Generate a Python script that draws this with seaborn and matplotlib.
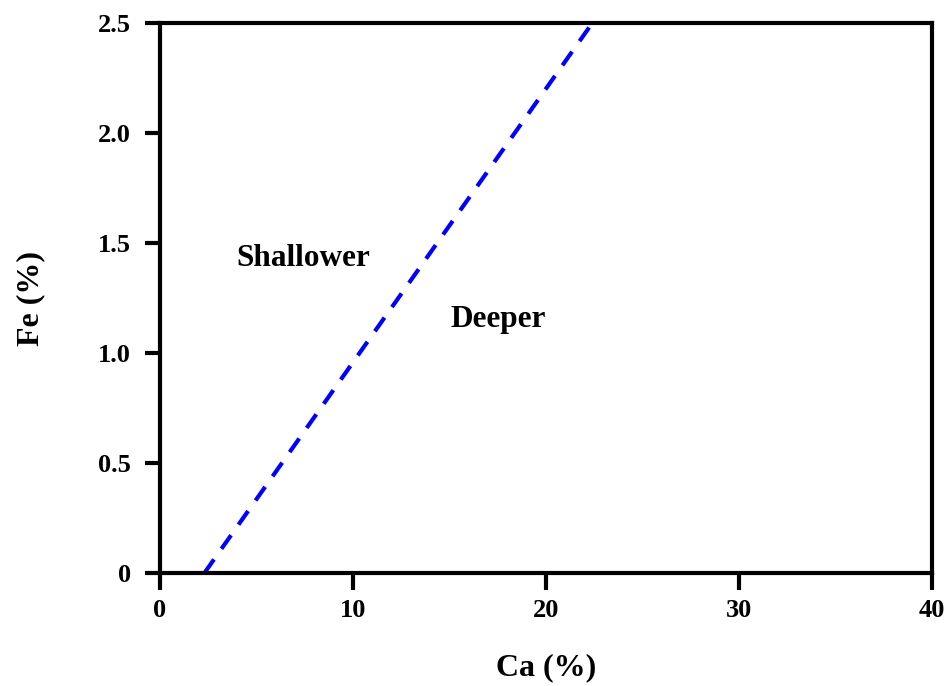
import matplotlib
matplotlib.use("Agg")
import matplotlib.pyplot as plt
import seaborn as sns
import pandas as pd

sns.set_theme(style="white")
plt.rcParams['font.family'] = ['Liberation Serif', 'DejaVu Serif']
plt.rcParams['font.weight'] = 'bold'
plt.rcParams['text.color'] = 'black'
plt.rcParams['axes.labelcolor'] = 'black'
plt.rcParams['xtick.color'] = 'black'
plt.rcParams['ytick.color'] = 'black'

# Boundary line data
ca_line = [2.3, 22.4]
fe_line = [0.0, 2.5]
x_ticks = [0, 10, 20, 30, 40]
y_ticks = [0, 0.5, 1.0, 1.5, 2.0, 2.5]
y_tick_labels = ["0", "0.5", "1.0", "1.5", "2.0", "2.5"]
region_labels = ["Shallower", "Deeper"]
region_x = [7.4, 17.5]
region_y = [1.43, 1.15]

df = pd.DataFrame({"Ca": ca_line, "Fe": fe_line})

fig = plt.figure(figsize=(9.47, 6.86), dpi=100)
ax = fig.add_axes([160/947, 1 - 573/686, (932-160)/947, (573-23)/686])
sns.lineplot(data=df, x="Ca", y="Fe", ax=ax, color="#0000ff", linestyle=(0, (4.0, 3.1)), linewidth=3)

ax.set_xlim(0, 40)
ax.set_ylim(0, 2.5)
ax.set_xticks(x_ticks)
ax.set_xticklabels([str(t) for t in x_ticks])
ax.set_yticks(y_ticks)
ax.set_yticklabels(y_tick_labels)
for s in ax.spines.values():
    s.set_linewidth(3)
    s.set_color("black")
ax.tick_params(axis="both", direction="out", width=3, labelsize=19, colors="black",
               bottom=True, left=True, top=False, right=False)
ax.tick_params(axis="x", length=12, pad=7)
ax.tick_params(axis="y", length=11, pad=10)
for lab in ax.get_xticklabels() + ax.get_yticklabels():
    lab.set_fontweight("bold")

ax.set_xlabel("Ca (%)", fontsize=23, fontweight="bold", labelpad=22, color="black")
ax.set_ylabel("Fe (%)", fontsize=23, fontweight="bold", labelpad=38, color="black")

for t, x, y in zip(region_labels, region_x, region_y):
    ax.text(x, y, t, fontsize=22.5, fontweight="bold", ha="center", va="center", color="black")

fig.savefig("out.png", dpi=100)
